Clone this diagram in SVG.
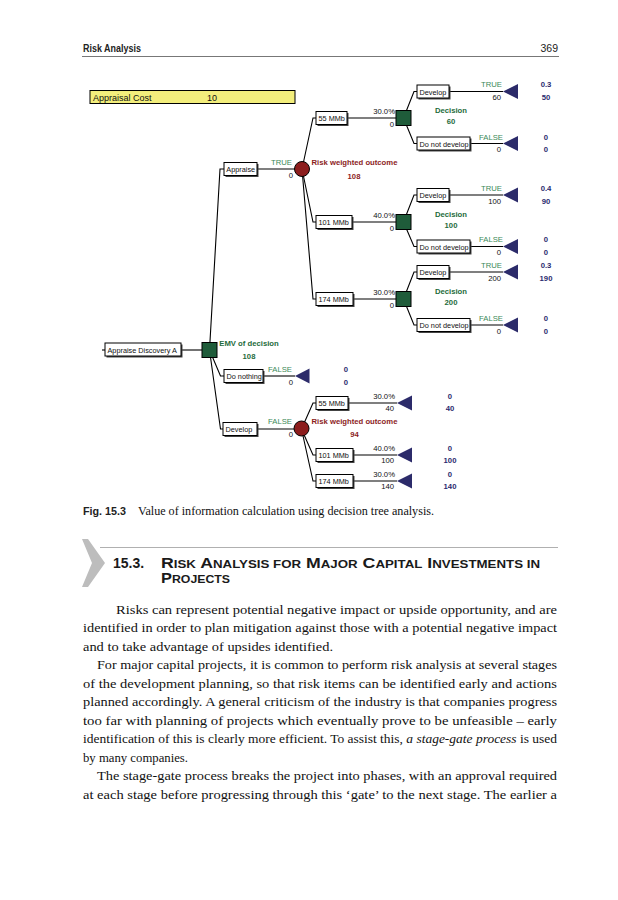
<svg xmlns="http://www.w3.org/2000/svg" width="618" height="900" viewBox="0 0 618 900">
<style>
.t{font-family:"Liberation Sans",Arial,sans-serif;font-size:7.7px;fill:#111}
.bl{font-size:7.3px}
.g{fill:#3b8a58}
.dg{fill:#1e6b3b;font-weight:bold}
.rd{fill:#8c1d1d;font-weight:bold}
.nv{fill:#2a2a6e;font-weight:bold}
.e{text-anchor:end}
.m{text-anchor:middle}
.box{fill:#fff;stroke:#000;stroke-width:1}
.sh{fill:#444}
.ln{stroke:#000;stroke-width:1.1;fill:none}
.sq{fill:#1f5c3a;stroke:#000;stroke-width:1}
.ch{fill:#8c1d1d;stroke:#000;stroke-width:1}
.tri{fill:#2c2b6a}
.body{font-family:"Liberation Serif","Times New Roman",serif;font-size:13px;fill:#111}
.hd{font-family:"Liberation Sans",Arial,sans-serif;fill:#222}
</style>
<rect width="618" height="900" fill="#fff"/>

<g id="header">
<text class="hd" x="83" y="51.5" style="font-size:10px;font-weight:bold" textLength="58" lengthAdjust="spacingAndGlyphs">Risk Analysis</text>
<text class="hd" x="558" y="51.5" style="font-size:10.5px" text-anchor="end">369</text>
<line x1="82" y1="56.5" x2="559" y2="56.5" stroke="#777" stroke-width="1"/>
</g>

<g id="appraisal-cost">
<rect x="90" y="90.5" width="205" height="13" fill="#f3ee7c" stroke="#000" stroke-width="1"/>
<text class="t" x="93" y="100.5" style="font-size:9px">Appraisal Cost</text>
<text class="t" x="207" y="100.5" style="font-size:9px">10</text>
</g>

<g id="connectors" class="ln">
<line x1="102" y1="350" x2="105" y2="350"/>
<line x1="181" y1="350" x2="209.5" y2="350"/>
<polyline points="209.5,350 220,169 224,169"/>
<polyline points="209.5,350 220.5,376 224,376"/>
<polyline points="209.5,350 220.5,429 223,429"/>
<line x1="257" y1="169" x2="302" y2="169"/>
<polyline points="302,169 313,118 316,118"/>
<polyline points="302,169 313,222 316,222"/>
<polyline points="302,169 313,299 316,299"/>
<line x1="347" y1="118" x2="403.5" y2="118"/>
<polyline points="403.5,118 414,91.5 417,91.5"/>
<polyline points="403.5,118 414,143.5 417,143.5"/>
<line x1="449" y1="91.5" x2="503" y2="91.5"/>
<line x1="470" y1="143.5" x2="503" y2="143.5"/>
<line x1="352" y1="222" x2="403.5" y2="222"/>
<polyline points="403.5,222 414,195 417,195"/>
<polyline points="403.5,222 414,246.5 417,246.5"/>
<line x1="449" y1="195" x2="503" y2="195"/>
<line x1="470" y1="246.5" x2="503" y2="246.5"/>
<line x1="353" y1="299" x2="403.5" y2="299"/>
<polyline points="403.5,299 414,272 417,272"/>
<polyline points="403.5,299 414,325 417,325"/>
<line x1="449" y1="272" x2="503" y2="272"/>
<line x1="470" y1="325" x2="503" y2="325"/>
<line x1="263" y1="376" x2="295" y2="376"/>
<line x1="257" y1="429" x2="301.5" y2="429"/>
<polyline points="301.5,429 313,403 316,403"/>
<polyline points="301.5,429 313,455 316,455"/>
<polyline points="301.5,429 313,481 316,481"/>
<line x1="348" y1="403" x2="397" y2="403"/>
<line x1="353" y1="455" x2="397" y2="455"/>
<line x1="353" y1="481" x2="397" y2="481"/>
</g>

<g id="appraise-discovery-a">
<rect class="sh" x="106.5" y="344.5" width="76" height="13"/>
<rect class="box" x="105" y="343" width="76" height="13"/>
<text class="t bl" x="107.5" y="352.5">Appraise Discovery A</text>
</g>
<g id="root-decision">
<rect class="sq" x="202" y="342.5" width="15" height="15"/>
<text class="t dg m" x="249" y="346">EMV of decision</text>
<text class="t dg m" x="249" y="358.5">108</text>
</g>

<g id="appraise">
<rect class="sh" x="225.5" y="164" width="33" height="13"/>
<rect class="box" x="224" y="162.5" width="33" height="13"/>
<text class="t bl" x="226.3" y="172">Appraise</text>
<text class="t g e" x="292" y="165">TRUE</text>
<text class="t e" x="293" y="177.5">0</text>
</g>
<g id="appraise-chance">
<circle class="ch" cx="302" cy="169" r="7.5"/>
<text class="t rd m" x="354.5" y="165">Risk weighted outcome</text>
<text class="t rd m" x="354" y="178.5">108</text>
</g>

<g id="a-55">
<rect class="sh" x="317.5" y="113" width="31" height="13"/>
<rect class="box" x="316" y="111.5" width="31" height="13"/>
<text class="t bl" x="318.5" y="121">55 MMb</text>
<text class="t e" x="395" y="113.5">30.0%</text>
<text class="t e" x="394" y="126.5">0</text>
</g>
<g id="a-55-decision">
<rect class="sq" x="396" y="110.5" width="15" height="15"/>
<text class="t dg m" x="451" y="113">Decision</text>
<text class="t dg m" x="451" y="123.5">60</text>
</g>
<g id="a-55-develop">
<rect class="sh" x="418.5" y="86.5" width="32" height="13"/>
<rect class="box" x="417" y="85" width="32" height="13"/>
<text class="t bl" x="419.5" y="94.5">Develop</text>
<text class="t g e" x="502" y="87">TRUE</text>
<text class="t e" x="501" y="100">60</text>
<polygon class="tri" points="503,91.5 518,84 518,99"/>
<text class="t nv m" x="546" y="87">0.3</text>
<text class="t nv m" x="546" y="100">50</text>
</g>
<g id="a-55-dnd">
<rect class="sh" x="418.5" y="138.5" width="53" height="13"/>
<rect class="box" x="417" y="137" width="53" height="13"/>
<text class="t bl" x="419.5" y="146.5">Do not develop</text>
<text class="t g e" x="503" y="139.5">FALSE</text>
<text class="t e" x="501" y="152">0</text>
<polygon class="tri" points="503,143.5 518,136 518,151"/>
<text class="t nv m" x="546" y="139.5">0</text>
<text class="t nv m" x="546" y="152">0</text>
</g>

<g id="a-101">
<rect class="sh" x="317.5" y="217" width="36" height="13"/>
<rect class="box" x="316" y="215.5" width="36" height="13"/>
<text class="t bl" x="318.5" y="225">101 MMb</text>
<text class="t e" x="395" y="217.5">40.0%</text>
<text class="t e" x="394" y="230.5">0</text>
</g>
<g id="a-101-decision">
<rect class="sq" x="396" y="214.5" width="15" height="15"/>
<text class="t dg m" x="451" y="217">Decision</text>
<text class="t dg m" x="451" y="227.5">100</text>
</g>
<g id="a-101-develop">
<rect class="sh" x="418.5" y="190" width="32" height="13"/>
<rect class="box" x="417" y="188.5" width="32" height="13"/>
<text class="t bl" x="419.5" y="198">Develop</text>
<text class="t g e" x="502" y="190.5">TRUE</text>
<text class="t e" x="501" y="203.5">100</text>
<polygon class="tri" points="503,195 518,187.5 518,202.5"/>
<text class="t nv m" x="546" y="190.5">0.4</text>
<text class="t nv m" x="546" y="203.5">90</text>
</g>
<g id="a-101-dnd">
<rect class="sh" x="418.5" y="241.5" width="53" height="13"/>
<rect class="box" x="417" y="240" width="53" height="13"/>
<text class="t bl" x="419.5" y="249.5">Do not develop</text>
<text class="t g e" x="503" y="242">FALSE</text>
<text class="t e" x="501" y="255">0</text>
<polygon class="tri" points="503,246.5 518,239 518,254"/>
<text class="t nv m" x="546" y="242">0</text>
<text class="t nv m" x="546" y="255">0</text>
</g>

<g id="a-174">
<rect class="sh" x="317.5" y="294" width="37" height="13"/>
<rect class="box" x="316" y="292.5" width="37" height="13"/>
<text class="t bl" x="318.5" y="302">174 MMb</text>
<text class="t e" x="395" y="294.5">30.0%</text>
<text class="t e" x="394" y="307.5">0</text>
</g>
<g id="a-174-decision">
<rect class="sq" x="396" y="291.5" width="15" height="15"/>
<text class="t dg m" x="451" y="294">Decision</text>
<text class="t dg m" x="451" y="304.5">200</text>
</g>
<g id="a-174-develop">
<rect class="sh" x="418.5" y="267" width="32" height="13"/>
<rect class="box" x="417" y="265.5" width="32" height="13"/>
<text class="t bl" x="419.5" y="275">Develop</text>
<text class="t g e" x="502" y="267.5">TRUE</text>
<text class="t e" x="501" y="280.5">200</text>
<polygon class="tri" points="503,272 518,264.5 518,279.5"/>
<text class="t nv m" x="546" y="267.5">0.3</text>
<text class="t nv m" x="546" y="280.5">190</text>
</g>
<g id="a-174-dnd">
<rect class="sh" x="418.5" y="320" width="53" height="13"/>
<rect class="box" x="417" y="318.5" width="53" height="13"/>
<text class="t bl" x="419.5" y="328">Do not develop</text>
<text class="t g e" x="503" y="320.5">FALSE</text>
<text class="t e" x="501" y="333.5">0</text>
<polygon class="tri" points="503,325 518,317.5 518,332.5"/>
<text class="t nv m" x="546" y="320.5">0</text>
<text class="t nv m" x="546" y="333.5">0</text>
</g>

<g id="do-nothing">
<rect class="sh" x="225.5" y="371" width="39" height="13"/>
<rect class="box" x="224" y="369.5" width="39" height="13"/>
<text class="t bl" x="226.5" y="379">Do nothing</text>
<text class="t g e" x="292" y="372">FALSE</text>
<text class="t e" x="293" y="384.5">0</text>
<polygon class="tri" points="295,376 309.5,368.5 309.5,383.5"/>
<text class="t nv m" x="346" y="372">0</text>
<text class="t nv m" x="346" y="384.5">0</text>
</g>

<g id="develop">
<rect class="sh" x="224.5" y="424" width="34" height="13"/>
<rect class="box" x="223" y="422.5" width="34" height="13"/>
<text class="t bl" x="225.5" y="432">Develop</text>
<text class="t g e" x="292" y="424">FALSE</text>
<text class="t e" x="293" y="437">0</text>
</g>
<g id="develop-chance">
<circle class="ch" cx="301.5" cy="428.5" r="7.5"/>
<text class="t rd m" x="354.5" y="424">Risk weighted outcome</text>
<text class="t rd m" x="354.5" y="437">94</text>
</g>
<g id="d-55">
<rect class="sh" x="317.5" y="398" width="32" height="13"/>
<rect class="box" x="316" y="396.5" width="32" height="13"/>
<text class="t bl" x="318.5" y="406">55 MMb</text>
<text class="t e" x="395" y="398.5">30.0%</text>
<text class="t e" x="394" y="411">40</text>
<polygon class="tri" points="397,403 412,395.5 412,410.5"/>
<text class="t nv m" x="450" y="398.5">0</text>
<text class="t nv m" x="450" y="411">40</text>
</g>
<g id="d-101">
<rect class="sh" x="317.5" y="450" width="37" height="13"/>
<rect class="box" x="316" y="448.5" width="37" height="13"/>
<text class="t bl" x="318.5" y="458">101 MMb</text>
<text class="t e" x="395" y="450.5">40.0%</text>
<text class="t e" x="394" y="463">100</text>
<polygon class="tri" points="397,455 412,447.5 412,462.5"/>
<text class="t nv m" x="450" y="450.5">0</text>
<text class="t nv m" x="450" y="463">100</text>
</g>
<g id="d-174">
<rect class="sh" x="317.5" y="476" width="37" height="13"/>
<rect class="box" x="316" y="474.5" width="37" height="13"/>
<text class="t bl" x="318.5" y="484">174 MMb</text>
<text class="t e" x="395" y="476.5">30.0%</text>
<text class="t e" x="394" y="489">140</text>
<polygon class="tri" points="397,481 412,473.5 412,488.5"/>
<text class="t nv m" x="450" y="476.5">0</text>
<text class="t nv m" x="450" y="489">140</text>
</g>

<g id="caption">
<text class="hd" x="83" y="515" style="font-size:10.5px;font-weight:bold" textLength="43" lengthAdjust="spacingAndGlyphs">Fig. 15.3</text>
<text class="body" x="138" y="515" style="font-size:11.5px" textLength="296" lengthAdjust="spacingAndGlyphs">Value of information calculation using decision tree analysis.</text>
</g>

<g id="section-heading">
<polygon points="82,539 88,539 105,563 88,587 82,587 92,563" fill="#bdbdbd"/>
<line x1="100" y1="547.5" x2="558" y2="547.5" stroke="#b0b0b0" stroke-width="1"/>
<text class="hd" x="113" y="568" style="font-size:14px;font-weight:bold;fill:#1a1a1a">15.3.</text>
<text class="hd" x="161" y="568" style="font-size:14px;font-weight:bold;fill:#1a1a1a" textLength="379" lengthAdjust="spacingAndGlyphs">R<tspan style="font-size:10.5px">ISK</tspan> A<tspan style="font-size:10.5px">NALYSIS FOR</tspan> M<tspan style="font-size:10.5px">AJOR</tspan> C<tspan style="font-size:10.5px">APITAL</tspan> I<tspan style="font-size:10.5px">NVESTMENTS IN</tspan></text>
<text class="hd" x="161" y="583" style="font-size:14px;font-weight:bold;fill:#1a1a1a" textLength="69" lengthAdjust="spacingAndGlyphs">P<tspan style="font-size:10.5px">ROJECTS</tspan></text>
</g>

<g id="body-text" class="body">
<text x="116" y="613.5" textLength="441" lengthAdjust="spacingAndGlyphs">Risks can represent potential negative impact or upside opportunity, and are</text>
<text x="83" y="632" textLength="474" lengthAdjust="spacingAndGlyphs">identified in order to plan mitigation against those with a potential negative impact</text>
<text x="83" y="650.5" textLength="250" lengthAdjust="spacingAndGlyphs">and to take advantage of upsides identified.</text>
<text x="97" y="669" textLength="460" lengthAdjust="spacingAndGlyphs">For major capital projects, it is common to perform risk analysis at several stages</text>
<text x="83" y="687.5" textLength="474" lengthAdjust="spacingAndGlyphs">of the development planning, so that risk items can be identified early and actions</text>
<text x="83" y="706" textLength="474" lengthAdjust="spacingAndGlyphs">planned accordingly. A general criticism of the industry is that companies progress</text>
<text x="83" y="724.5" textLength="474" lengthAdjust="spacingAndGlyphs">too far with planning of projects which eventually prove to be unfeasible – early</text>
<text x="83" y="743" textLength="474" lengthAdjust="spacingAndGlyphs">identification of this is clearly more efficient. To assist this, <tspan font-style="italic">a stage-gate process</tspan> is used</text>
<text x="83" y="761.5" textLength="105" lengthAdjust="spacingAndGlyphs">by many companies.</text>
<text x="97" y="780" textLength="460" lengthAdjust="spacingAndGlyphs">The stage-gate process breaks the project into phases, with an approval required</text>
<text x="83" y="798.5" textLength="474" lengthAdjust="spacingAndGlyphs">at each stage before progressing through this ‘gate’ to the next stage. The earlier a</text>
</g>
</svg>
